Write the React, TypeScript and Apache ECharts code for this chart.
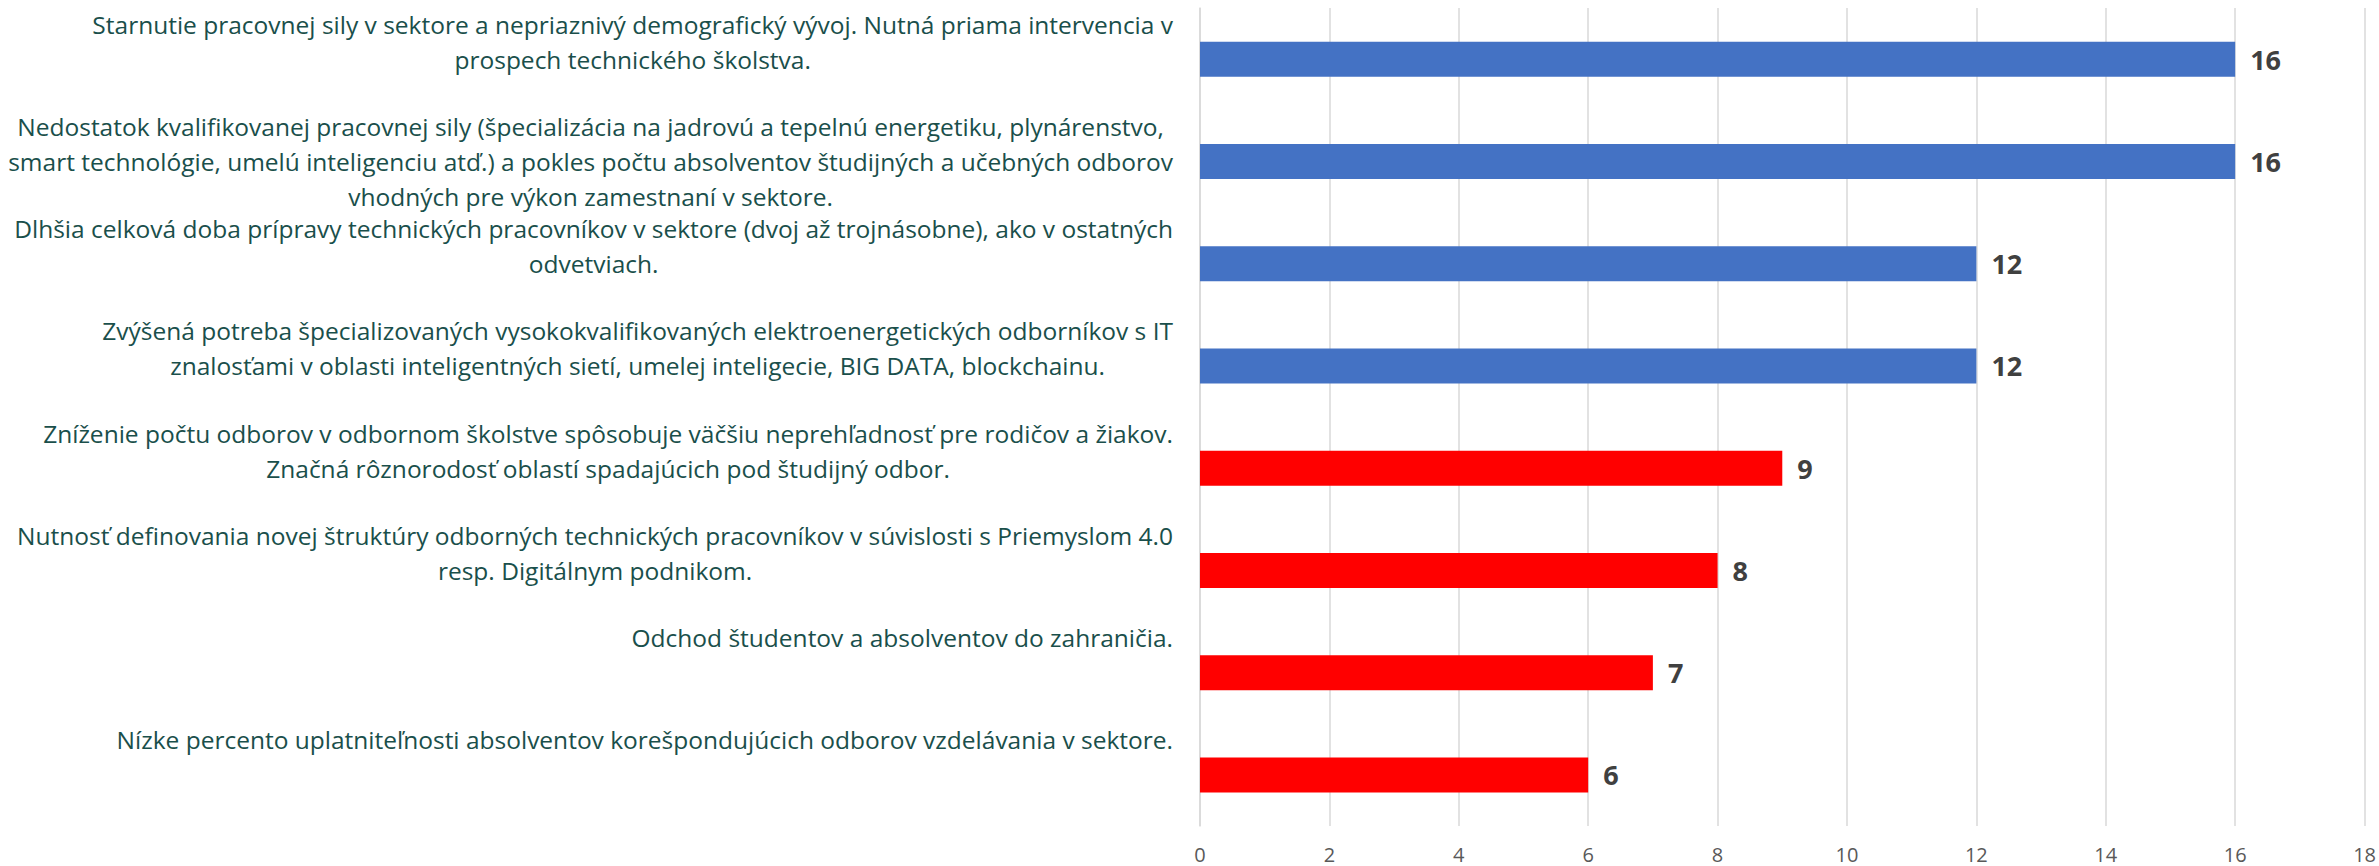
import React, { useEffect, useRef } from "react";
import * as echarts from "echarts";

const categoryLines: string[][] = [
  [
    "Starnutie pracovnej sily v sektore a nepriaznivý demografický vývoj. Nutná priama intervencia v",
    "prospech technického školstva.",
  ],
  [
    "Nedostatok kvalifikovanej pracovnej sily (špecializácia na jadrovú a tepelnú energetiku, plynárenstvo,",
    "smart technológie, umelú inteligenciu atď.) a pokles počtu absolventov študijných a učebných odborov",
    "vhodných pre výkon zamestnaní v sektore.",
  ],
  [
    "Dlhšia celková doba prípravy technických pracovníkov v sektore (dvoj až trojnásobne), ako v ostatných",
    "odvetviach.",
  ],
  [
    "Zvýšená potreba špecializovaných vysokokvalifikovaných elektroenergetických odborníkov s IT",
    "znalosťami v oblasti inteligentných sietí, umelej inteligecie, BIG DATA, blockchainu.",
  ],
  [
    "Zníženie počtu odborov v odbornom školstve spôsobuje väčšiu neprehľadnosť pre rodičov a žiakov.",
    "Značná rôznorodosť oblastí spadajúcich pod študijný odbor.",
  ],
  [
    "Nutnosť definovania novej štruktúry odborných technických pracovníkov v súvislosti s Priemyslom 4.0",
    "resp. Digitálnym podnikom.",
  ],
  ["Odchod študentov a absolventov do zahraničia."],
  ["Nízke percento uplatniteľnosti absolventov korešpondujúcich odborov vzdelávania v sektore."],
];

const values: number[] = [16, 16, 12, 12, 9, 8, 7, 6];
const barColors: string[] = ["#4472C4", "#4472C4", "#4472C4", "#4472C4", "#FF0000", "#FF0000", "#FF0000", "#FF0000"];
const axisMin = 0;
const axisMax = 18;
const axisInterval = 2;

const FONT = "'Open Sans', 'Noto Sans', sans-serif";

export default function App() {
  const ref = useRef<HTMLDivElement>(null);

  useEffect(() => {
    document.body.style.margin = "0";
    if (!ref.current) return;
    const chart = echarts.init(ref.current, undefined, { renderer: "svg" });
    const categories = categoryLines.map((_, i) => "c" + i);

    chart.setOption({
      animation: false,
      backgroundColor: "#FFFFFF",
      grid: { left: 1200, right: 10, top: 8, bottom: 40, containLabel: false },
      xAxis: {
        type: "value",
        min: axisMin,
        max: axisMax,
        interval: axisInterval,
        axisLine: { show: false },
        axisTick: { show: false },
        splitLine: { show: true, lineStyle: { color: "#D9D9D9", width: 1.5 } },
        axisLabel: {
          color: "#595959",
          fontSize: 20,
          lineHeight: 16,
          fontFamily: FONT,
          margin: 20,
        },
      },
      yAxis: {
        type: "category",
        inverse: true,
        data: categories,
        axisLine: { show: true, lineStyle: { color: "#D9D9D9", width: 1.5 } },
        axisTick: { show: false },
        axisLabel: {
          interval: 0,
          hideOverlap: false,
          margin: 27,
          align: "right",
          verticalAlign: "middle",
          lineHeight: 35,
          fontFamily: FONT,
          fontSize: 24.5,
          color: "#1A4F4B",
          formatter: (_v: string, idx: number) => {
            const lines = categoryLines[idx].slice();
            while (lines.length < 3) lines.push(" ");
            return lines.map((l) => "{c|" + l + "}").join("\n");
          },
          rich: {
            c: {
              align: "center",
              fontFamily: FONT,
              fontSize: 24.5,
              lineHeight: 35,
              color: "#1A4F4B",
            },
          },
        },
      },
      series: [
        {
          type: "bar",
          data: values.map((v, i) => ({ value: v, itemStyle: { color: barColors[i] } })),
          barWidth: 35,
          label: {
            show: true,
            position: "right",
            distance: 15,
            fontFamily: FONT,
            fontSize: 27,
            fontWeight: "bold",
            color: "#404040",
          },
        },
      ],
    });

    return () => chart.dispose();
  }, []);

  return <div ref={ref} style={{ width: 2379, height: 866 }} />;
}
